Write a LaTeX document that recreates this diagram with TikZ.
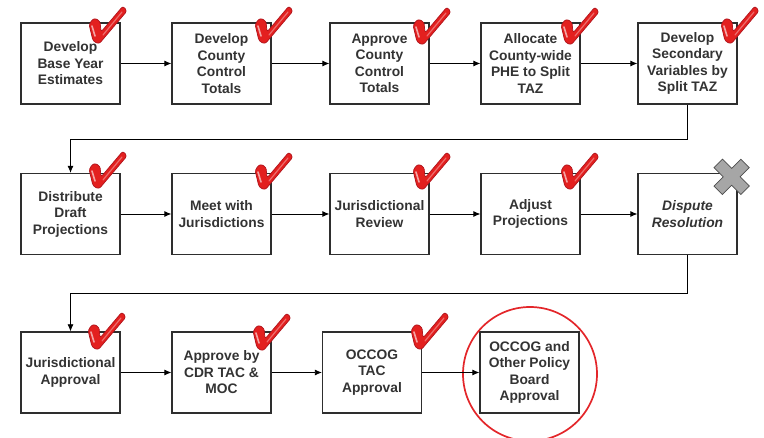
\documentclass[tikz,border=0pt]{standalone}
\usepackage{fontspec}
\setmainfont{Liberation Sans}
\usetikzlibrary{arrows.meta}
\definecolor{txt}{HTML}{333333}
\definecolor{boxc}{HTML}{2E2E2E}
\definecolor{chkred}{HTML}{E3201F}
\definecolor{chkdark}{HTML}{B0141C}
\definecolor{ringred}{HTML}{E3262A}
\definecolor{xfill}{HTML}{A6A6A6}
\definecolor{xline}{HTML}{4D4D4D}
\begin{document}
\begin{tikzpicture}[x=1pt,y=-1pt,
  box/.style={draw=boxc, line width=1.3pt, minimum width=99pt, minimum height=81pt,
    inner sep=2pt, align=center, font=\fontsize{13.8}{16.5}\selectfont\bfseries, text=txt, fill=white,
    execute at begin node={\rule{0pt}{13.5pt}}},
  conn/.style={line width=0.8pt, draw=black, -{Latex[length=7pt,width=6pt]}},
  pics/chk/.style={code={
    \fill[chkred, draw=chkdark, line width=0.7pt, rounded corners=2.5pt]
      (0,18) -- (5,12) -- (11,15) -- (12,26) -- (34,0) -- (38,5) -- (10,38) -- (4,35) -- cycle;
    \draw[white, opacity=0.6, line width=1.6pt, line cap=round] (3,20) -- (6,30);
    \draw[white, opacity=0.35, line width=1.2pt, line cap=round] (14,29) -- (33,6);
  }},
  pics/xmark/.style={code={
    \begin{scope}[shift={(-6,4)}, rotate=45]
      \filldraw[fill=xfill, draw=xline, line width=0.7pt]
        (-6,-19) -- (6,-19) -- (6,-6) -- (19,-6) -- (19,6) -- (6,6) -- (6,19)
        -- (-6,19) -- (-6,6) -- (-19,6) -- (-19,-6) -- (-6,-6) -- cycle;
    \end{scope}
  }}]
\useasboundingbox (0,0) rectangle (764,438);

% row 1
\node[box] (a1) at (70.5,63.5) {Develop\\Base Year\\Estimates};
\node[box] (a2) at (221.5,63.5) {Develop\\County\\Control\\Totals};
\node[box] (a3) at (379.5,63.5) {Approve\\County\\Control\\Totals};
\node[box] (a4) at (530.5,63.5) {Allocate\\County-wide\\PHE to Split\\TAZ};
\node[box] (a5) at (687.5,63.5) {Develop\\Secondary\\Variables by\\Split TAZ};
% row 2
\node[box] (b1) at (70.5,214) {Distribute\\Draft\\Projections};
\node[box] (b2) at (221.5,214) {Meet with\\Jurisdictions};
\node[box] (b3) at (379.5,214) {Jurisdictional\\Review};
\node[box] (b4) at (530.5,214) {Adjust\\Projections};
\node[box, font=\fontsize{13.8}{16.5}\selectfont\bfseries\itshape] (b5) at (687.5,214) {Dispute\\Resolution};
% row 3
\node[box] (c1) at (70.5,372.5) {Jurisdictional\\Approval};
\node[box] (c2) at (221.5,372.5) {Approve by\\CDR TAC \&\\MOC};
\node[box] (c3) at (372,372.5) {OCCOG\\TAC\\Approval};
\node[box] (c4) at (529.5,372.5) {OCCOG and\\Other Policy\\Board\\Approval};

\node[draw=ringred, line width=1.7pt, circle, minimum size=134pt, inner sep=0pt] (ring) at (530,374) {};

% connectors
\draw[conn] (a1) -- (a2);
\draw[conn] (a2) -- (a3);
\draw[conn] (a3) -- (a4);
\draw[conn] (a4) -- (a5);
\draw[conn] (a5.south) -- ++(0,34.5) -| (b1.north);
\draw[conn] (b1) -- (b2);
\draw[conn] (b2) -- (b3);
\draw[conn] (b3) -- (b4);
\draw[conn] (b4) -- (b5);
\draw[conn] (b5.south) -- ++(0,38.5) -| (c1.north);
\draw[conn] (c1) -- (c2);
\draw[conn] (c2) -- (c3);
\draw[conn] (c3) -- (c4);

% marks
\foreach \p in {(89,6),(255,6),(413,7),(561,7),(721,6),
                (89,151),(255,152),(413,152),(561,152),
                (88,312),(253,313),(411,312)}
  \pic at \p {chk};
\pic at (b5.north east) {xmark};
\end{tikzpicture}
\end{document}
